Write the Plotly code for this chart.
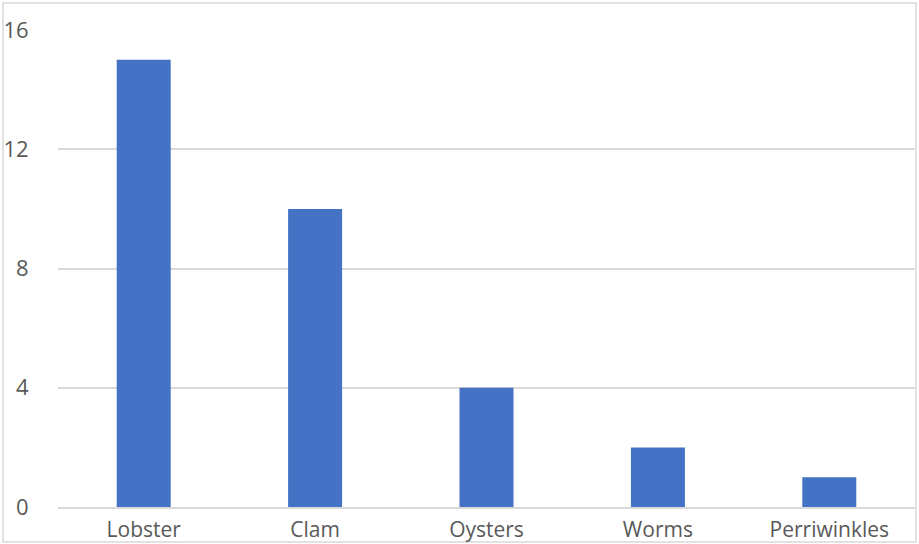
import plotly.graph_objects as go

categories = ["Lobster", "Clam", "Oysters", "Worms", "Perriwinkles"]
values = [15, 10, 4, 2, 1]
y_ticks = [0, 4, 8, 12, 16]

W, H = 919, 544
ml, mr, mt, mb = 58, 4, 30, 37
pw = W - ml - mr
ph = H - mt - mb

fig = go.Figure(go.Bar(x=categories, y=values, marker_color="#4472C4", marker_line_width=0))

fig.update_layout(
    width=W, height=H,
    margin=dict(l=ml, r=mr, t=mt, b=mb, pad=0),
    plot_bgcolor="white", paper_bgcolor="white",
    bargap=0.685,
    showlegend=False,
    font=dict(family="Open Sans", size=22, color="#595959"),
)
fig.update_yaxes(
    range=[0, 16], tickvals=y_ticks, showgrid=True, gridcolor="#D9D9D9", gridwidth=1.5,
    zeroline=False, showline=False, ticks="outside", ticklen=24, tickcolor="rgba(0,0,0,0)",
    tickfont=dict(size=22, color="#595959"), automargin=False,
)
fig.update_xaxes(
    showgrid=False, showline=True, linecolor="#D9D9D9", linewidth=1.5,
    ticks="outside", ticklen=3, tickcolor="rgba(0,0,0,0)",
    tickfont=dict(size=21, color="#595959"), automargin=False,
)
# outer chart border
x0 = (3 - ml) / pw
x1 = (916 - ml) / pw
y1 = (H - mb - 3) / ph
y0 = (H - mb - 542) / ph
fig.add_shape(type="rect", xref="paper", yref="paper", x0=x0, x1=x1, y0=y0, y1=y1,
              line=dict(color="#D9D9D9", width=1.5), fillcolor="rgba(0,0,0,0)", layer="below")

fig.write_html("out.html", config={"displayModeBar": False},
               post_script="document.body.style.margin='0';document.body.style.overflow='hidden';")
